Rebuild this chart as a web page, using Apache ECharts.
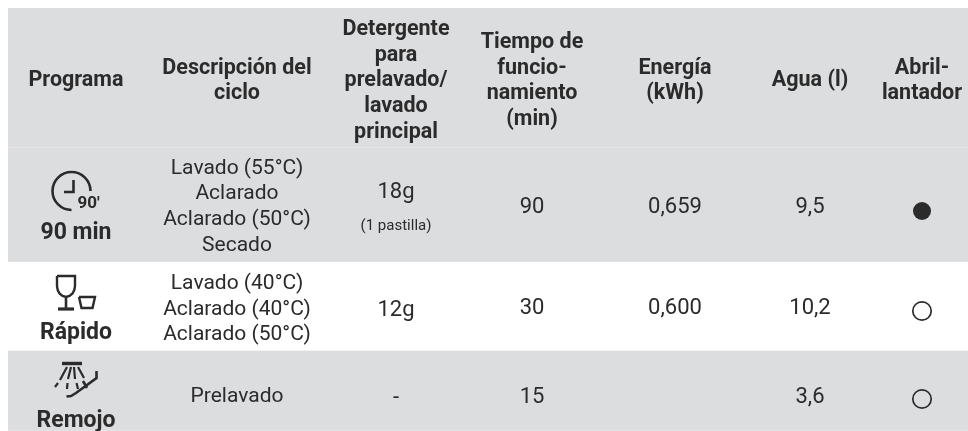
<!DOCTYPE html>
<html><head><meta charset="utf-8">
<style>html,body{margin:0;padding:0;background:#fff}#c{width:968px;height:431px}</style>
<script src="https://cdn.jsdelivr.net/npm/echarts@6/dist/echarts.min.js"></script>
</head><body><div id="c"></div>
<script>
const headers = ["Programa","Descripción del\nciclo","Detergente\npara\nprelavado/\nlavado\nprincipal","Tiempo de\nfuncio-\nnamiento\n(min)","Energía\n(kWh)","Agua (l)","Abril-\nlantador"];
const programs = ["90 min","Rápido","Remojo"];
const descriptions = ["Lavado (55°C)\nAclarado\nAclarado (50°C)\nSecado","Lavado (40°C)\nAclarado (40°C)\nAclarado (50°C)","Prelavado"];
const detergent = ["18g","12g","-"];
const detergentNote = ["(1 pastilla)","",""];
const minutes = ["90","30","15"];
const energy = ["0,659","0,600",""];
const water = ["9,5","10,2","3,6"];
const rinseAid = [1,0,0];

const colX = [76,237,396,532,675,810,922];
const rowEdges = [8,148,262,351,431];
const rowFill = ["#dcdddf","#dcdddf","#ffffff","#dcdddf"];
const C = {ink:"#2b2b2b", font:"Roboto"};
const REG = 21, BOLD = 21.5, PROG = 23, NUM = 22, NOTE = 15, LH = 25.6;

const cells = [];
function cell(x,y,text,size,weight,lh){cells.push({x,y,text,size,weight,lh:lh||LH});}
headers.forEach((h,i)=>cell(colX[i],81,h,BOLD,"bold"));
const descY=[207,309.5,397], detY=[192,310,398], numY=[207,308,397], progY=[233,333,421];
programs.forEach((p,i)=>{
  cell(colX[0],progY[i],p,PROG,"bold");
  cell(colX[1],descY[i],descriptions[i],REG,"normal");
  cell(colX[2],detY[i],detergent[i],NUM,"normal");
  if(detergentNote[i]) cell(colX[2],226.5,detergentNote[i],NOTE,"normal");
  cell(colX[3],numY[i],minutes[i],NUM,"normal");
  if(energy[i]) cell(colX[4],numY[i],energy[i],NUM,"normal");
  cell(colX[5],numY[i],water[i],NUM,"normal");
});
const markY=[211,311,399];
const bands = rowFill.map((f,i)=>[rowEdges[i],rowEdges[i+1],f]);

const iconLines = [
  // clock hands
  {p:[[73.5,180],[73.5,192],[64,192]],w:2.6},
  // wine glass
  {p:[[57,276],[75,276],[75,286],[74.3,290],[72.5,293.5],[69.5,296],[66,297],[62.5,296],[59.5,293.5],[57.7,290],[57,286],[57,276]],w:2.4},
  {p:[[66,297],[66,308]],w:2.6},
  {p:[[58,309],[74,309]],w:3.2},
  // cup
  {p:[[79,297],[95,297],[92.5,308],[81.5,308],[79,297]],w:2.4},
  // spray
  {p:[[62,363.5],[82,363.5]],w:3.4},
  {p:[[96.5,371],[96.5,378],[76,393],[71,396],[66.5,396.5]],w:2.6},
  {p:[[83,381],[87,388]],w:2.6},
  {p:[[67,367],[60,380]],w:2.2},{p:[[58,383],[55,387]],w:2.2},
  {p:[[71,367],[68,379]],w:2.2},{p:[[67.5,383],[67,389]],w:2.2},
  {p:[[74,367],[75,379]],w:2.2},{p:[[76.5,383],[78,389]],w:2.2},
  {p:[[78,367],[84,378]],w:2.2}
];

const chart = echarts.init(document.getElementById("c"),null,{renderer:"canvas"});
chart.setOption({
  animation:false,
  backgroundColor:"#ffffff",
  grid:{left:0,right:0,top:0,bottom:0},
  xAxis:{type:"value",min:0,max:968,show:false},
  yAxis:{type:"value",min:0,max:431,inverse:true,show:false},
  series:[
    {type:"custom",silent:true,clip:false,data:bands,z:1,
     renderItem(p,api){
       const b=bands[p.dataIndex];
       const a=api.coord([8,b[0]]), z=api.coord([968,b[1]]);
       return {type:"group",children:[
         {type:"rect",shape:{x:a[0],y:a[1],width:z[0]-a[0],height:z[1]-a[1]},style:{fill:b[2]}},
         {type:"rect",shape:{x:a[0],y:z[1]-0.5,width:z[0]-a[0],height:1},style:{fill:"#e9eaeb"}}
       ]};
     }},
    {type:"custom",silent:true,clip:false,data:rinseAid,z:3,
     renderItem(p,api){
       const c=api.coord([colX[6],markY[p.dataIndex]]);
       const f=rinseAid[p.dataIndex];
       return {type:"circle",shape:{cx:c[0],cy:c[1],r:f?9:9.2},style:{fill:f?C.ink:"transparent",stroke:C.ink,lineWidth:f?0:1.7}};
     }},
    {type:"custom",silent:true,clip:false,data:cells,z:4,
     renderItem(p,api){
       const t=cells[p.dataIndex], c=api.coord([t.x,t.y]);
       return {type:"text",x:c[0],y:c[1],style:{text:t.text,fill:C.ink,align:"center",verticalAlign:"middle",
         fontSize:t.size,fontWeight:t.weight,fontFamily:C.font,lineHeight:t.lh}};
     }},
    {type:"custom",silent:true,clip:false,data:iconLines,z:5,
     renderItem(p,api){
       const ic=iconLines[p.dataIndex];
       return {type:"polyline",shape:{points:ic.p.map(q=>api.coord(q))},style:{stroke:C.ink,fill:"transparent",lineWidth:ic.w}};
     }},
    {type:"custom",silent:true,clip:false,data:[0],z:5,
     renderItem(p,api){
       const c=api.coord([71.5,191]);
       return {type:"group",children:[
         {type:"arc",shape:{cx:c[0],cy:c[1],r:19,startAngle:0,endAngle:Math.PI/2,clockwise:false},style:{stroke:C.ink,fill:"transparent",lineWidth:2.6}},
         {type:"text",x:88.5,y:204,style:{text:"90′",fill:C.ink,align:"center",verticalAlign:"middle",fontSize:17,fontWeight:"bold",fontFamily:C.font}}
       ]};
     }}
  ]
});
</script></body></html>
